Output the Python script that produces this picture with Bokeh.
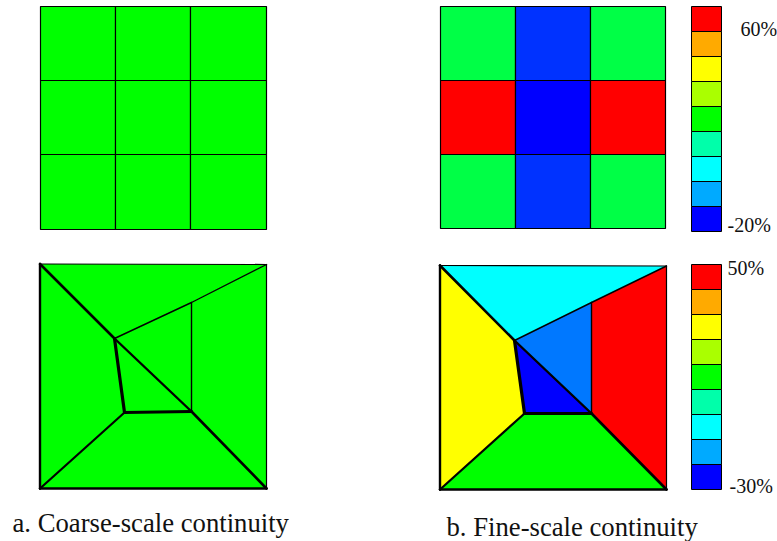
from bokeh.plotting import figure
from bokeh.models import Range1d
from bokeh.core.properties import value
from bokeh.embed import file_html
from bokeh.resources import INLINE

# Colour scale, lowest bin first
scale_colors = ["#0000ff", "#00aaff", "#00ffff", "#00ffaa", "#00ff00",
                "#aaff00", "#ffff00", "#ffaa00", "#ff0000"]
GREEN, CYAN, YELLOW, RED, BLUE = "#00ff00", "#00ffff", "#ffff00", "#ff0000", "#0000ff"

# Regular 3x3 grids (page-pixel drawing space)
coarse_x = [40, 115, 190, 266]
coarse_y = [6, 80, 154, 229]
fine_x = [440, 515, 590, 665]
fine_y = [6, 80, 154, 228]
coarse_grid_colors = [[GREEN] * 3, [GREEN] * 3, [GREEN] * 3]
fine_grid_colors = [["#00ff46", "#0032ff", "#00ff46"],
                    [RED, BLUE, RED],
                    ["#00ff46", "#0032ff", "#00ff46"]]

# Irregular meshes: named vertices, then cells
coarse_pts = dict(a=(39.5, 263.5), b=(266, 264), c=(266, 488), d=(39.5, 488),
                  e=(114, 338), f=(124, 412), g=(191, 411), h=(191, 302))
fine_pts = dict(a=(439.5, 265), b=(666, 265.5), c=(666, 489), d=(439.5, 489),
                e=(514, 340), f=(524, 413), g=(591, 413), h=(591, 302))
mesh_cells = ["aehb", "aefd", "dfgc", "efg", "ehg", "hbcg"]
coarse_mesh_colors = [GREEN] * 6
fine_mesh_colors = [CYAN, YELLOW, GREEN, BLUE, "#0078ff", RED]
# Mesh edges with line widths
mesh_edges = [("ab", 1.2), ("bc", 1.2), ("cd", 2.4), ("da", 2.4), ("ae", 2.6),
              ("eg", 2.4), ("gc", 2.6), ("df", 2.2), ("ef", 3.2), ("fg", 3.2),
              ("eh", 1.4), ("hb", 1.4), ("hg", 1.4)]

# Colour bars
bar_x = (691, 721)
bar1_y = [6, 31, 56, 81, 106, 131, 156, 181, 206, 231]
bar2_y = [264, 289, 314, 339, 364, 389, 414, 439, 464, 489]

# Texts
labels = ["60%", "-20%", "50%", "-30%"]
label_x = [740, 727, 727, 729]
label_y = [28, 224, 267, 485]
captions = ["a. Coarse-scale continuity", "b. Fine-scale continuity"]
caption_x = [12, 446]
caption_y = [522, 526]

p = figure(width=777, height=541, output_backend="svg", toolbar_location=None,
           x_range=Range1d(0, 777), y_range=Range1d(541, 0),
           min_border=0, outline_line_color=None)
p.axis.visible = False
p.grid.visible = False


def grid(xs, ys, colors):
    left, right, top, bottom, fill = [], [], [], [], []
    for r in range(3):
        for c in range(3):
            left.append(xs[c]); right.append(xs[c + 1])
            top.append(ys[r]); bottom.append(ys[r + 1])
            fill.append(colors[r][c])
    p.quad(left=left, right=right, top=top, bottom=bottom, fill_color=fill,
           line_color="black", line_width=1.2)


def mesh(pts, colors):
    p.patches([[pts[k][0] for k in cell] for cell in mesh_cells],
              [[pts[k][1] for k in cell] for cell in mesh_cells],
              fill_color=colors, line_color=None)
    for edge, w in mesh_edges:
        p.line([pts[edge[0]][0], pts[edge[1]][0]], [pts[edge[0]][1], pts[edge[1]][1]],
               line_color="black", line_width=w, line_cap="round")


def bar(ys):
    p.quad(left=[bar_x[0]] * 9, right=[bar_x[1]] * 9, top=ys[:-1],
           bottom=ys[1:], fill_color=scale_colors[::-1], line_color="black",
           line_width=1)


grid(coarse_x, coarse_y, coarse_grid_colors)
grid(fine_x, fine_y, fine_grid_colors)
mesh(coarse_pts, coarse_mesh_colors)
mesh(fine_pts, fine_mesh_colors)
bar(bar1_y)
bar(bar2_y)

font = value("Liberation Serif")
p.text(label_x, label_y, text=labels, text_font=font, text_font_size="20px",
       text_color="#111111", text_align="left", text_baseline="alphabetic")
p.text(caption_x, caption_y, text=captions, text_font=font, text_font_size="26.7px",
       text_color="#111111", text_align="left", text_baseline="alphabetic")

open("out.html", "w").write(file_html(p, INLINE))
